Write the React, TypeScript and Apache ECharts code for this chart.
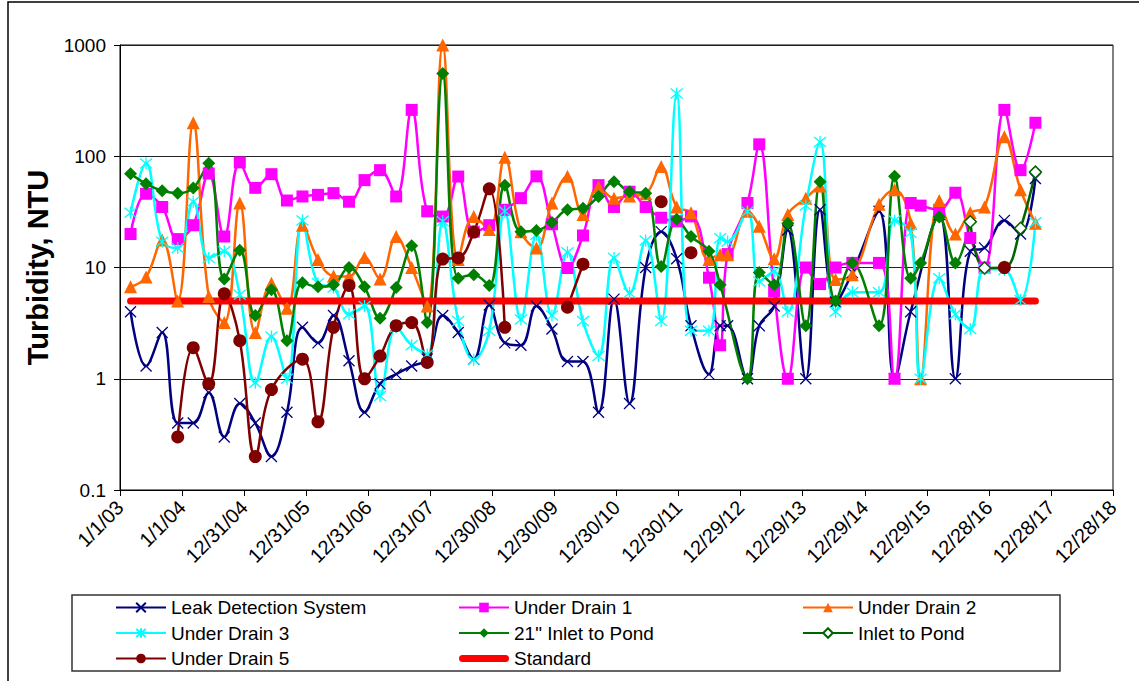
import React, { useEffect, useRef } from 'react';
import * as echarts from 'echarts';

// X axis: Excel date axis, major unit 365 days starting 1/1/03
const xTickLabels = ['1/1/03', '1/1/04', '12/31/04', '12/31/05', '12/31/06', '12/31/07', '12/30/08', '12/30/09', '12/30/10', '12/30/11', '12/29/12', '12/29/13', '12/29/14', '12/29/15', '12/28/16', '12/28/17', '12/28/18'];
const yTickValues = [0.1, 1, 10, 100, 1000];
const yTickLabels = ['0.1', '1', '10', '100', '1000'];

// [sample time (decimal year), turbidity NTU]; null = break in the line
const leakDetection = [
  [2003.17, 4.0], [2003.42, 1.3], [2003.68, 2.6], [2003.93, 0.4], [2004.18, 0.4], [2004.43, 0.75], [2004.68, 0.3], [2004.93, 0.6],
  [2005.18, 0.4], [2005.44, 0.2], [2005.69, 0.5], [2005.94, 2.9], [2006.19, 2.1], [2006.44, 3.7], [2006.69, 1.45], [2006.94, 0.5],
  [2007.19, 0.9], [2007.45, 1.1], [2007.70, 1.3], [2007.95, 1.5], [2008.20, 3.7], [2008.45, 2.6], [2008.70, 1.5], [2008.95, 4.6],
  [2009.20, 2.1], [2009.46, 2.0], [2009.71, 4.5], [2009.96, 2.8], [2010.21, 1.43], [2010.46, 1.43], [2010.71, 0.5], [2010.96, 5.2],
  [2011.21, 0.6], [2011.47, 10], [2011.72, 21], [2011.97, 12], [2012.20, 3.0], [2012.49, 1.1], [2012.67, 3.0], [2012.79, 3.0],
  [2013.11, 1.0], [2013.30, 3.0], [2013.54, 4.5], [2013.76, 21.7], [2014.05, 1.0], [2014.28, 33], [2014.53, 4.9], [2014.80, 9],
  [2015.23, 32], [2015.48, 1.0], [2015.74, 4.0], [2016.20, 30], [2016.46, 1.0], [2016.70, 14], [2016.93, 15], [2017.25, 26.5],
  [2017.51, 20], [2017.75, 63],
];

const underDrain1 = [
  [2003.17, 20], [2003.42, 46], [2003.68, 35], [2003.93, 18], [2004.18, 24], [2004.43, 70], [2004.68, 19], [2004.93, 88],
  [2005.18, 52], [2005.44, 69], [2005.69, 40], [2005.94, 43.5], [2006.19, 45], [2006.44, 46.6], [2006.69, 39], [2006.94, 61],
  [2007.19, 75], [2007.45, 43.5], [2007.70, 261], [2007.95, 32], [2008.20, 28.7], [2008.45, 65.7], [2008.70, 21], [2008.95, 24],
  [2009.20, 33], [2009.46, 42], [2009.71, 66], [2009.96, 24.5], [2010.21, 9.9], [2010.46, 19.4], [2010.71, 55], [2010.96, 35],
  [2011.21, 48], [2011.47, 35], [2011.72, 28], [2011.97, 26], [2012.20, 28.8], [2012.49, 8.1], [2012.67, 2.0], [2012.79, 13.2],
  [2013.11, 38], [2013.30, 128], [2013.54, 6.1], [2013.76, 1.0], [2014.05, 10], [2014.28, 7.1], [2014.53, 10], [2014.80, 11],
  [2015.23, 11], [2015.48, 1.0], [2015.74, 38], [2015.90, 36], [2016.20, 33], [2016.46, 47], [2016.70, 18.4], [2016.93, 10],
  [2017.25, 261], [2017.51, 75], [2017.75, 200],
];

const underDrain2 = [
  [2003.17, 6.7], [2003.42, 8.2], [2003.68, 17.7], [2003.93, 5.0], [2004.18, 200], [2004.43, 5.5], [2004.68, 3.2], [2004.93, 38],
  [2005.18, 2.6], [2005.44, 7.2], [2005.69, 4.3], [2005.94, 24], [2006.19, 11.8], [2006.44, 8.4], [2006.69, 8.3], [2006.94, 12.3],
  [2007.19, 7.9], [2007.45, 19], [2007.70, 10], [2007.95, 4.5], [2008.20, 1000], [2008.45, 11.8], [2008.70, 28.8], [2008.95, 22],
  [2009.20, 98], [2009.46, 21], [2009.71, 15], [2009.96, 38], [2010.21, 66], [2010.46, 30], [2010.71, 53], [2010.96, 42],
  [2011.21, 44], [2011.47, 46], [2011.72, 81], [2011.97, 35], [2012.20, 31], [2012.49, 11.8], [2012.67, 13], [2012.79, 13],
  [2013.11, 32], [2013.30, 23.5], [2013.54, 12], [2013.76, 30], [2014.05, 42], [2014.28, 54], [2014.53, 7.8], [2014.80, 8.6],
  [2015.23, 37], [2015.48, 50], [2015.74, 25], [2015.90, 1.0], [2016.20, 40], [2016.46, 20], [2016.70, 31], [2016.93, 35],
  [2017.25, 150], [2017.51, 50], [2017.75, 25],
];

const underDrain3 = [
  [2003.17, 31], [2003.42, 86], [2003.68, 17], [2003.93, 15], [2004.18, 39], [2004.43, 12.2], [2004.68, 14], [2004.93, 5.7],
  [2005.18, 0.92], [2005.44, 2.4], [2005.69, 1.0], [2005.94, 26.5], [2006.19, 7.2], [2006.44, 6.6], [2006.69, 3.8], [2006.94, 4.5],
  [2007.19, 0.7], [2007.45, 2.9], [2007.70, 2.0], [2007.95, 1.65], [2008.20, 26], [2008.45, 3.3], [2008.70, 1.48], [2008.95, 2.7],
  [2009.20, 32], [2009.46, 3.4], [2009.71, 19.7], [2009.96, 3.7], [2010.21, 13.7], [2010.46, 3.3], [2010.71, 1.6], [2010.96, 12.2],
  [2011.21, 5.9], [2011.47, 17.5], [2011.72, 3.3], [2011.97, 367], [2012.20, 2.7], [2012.49, 2.7], [2012.67, 18.3], [2012.79, 17.1],
  [2013.11, 31.8], [2013.30, 7.5], [2013.54, 9.2], [2013.76, 4.0], [2014.05, 36], [2014.28, 134], [2014.53, 4.0], [2014.80, 6.0],
  [2015.23, 6.0], [2015.48, 26.5], [2015.74, 20.5], [2015.90, 1.0], [2016.20, 8.0], [2016.46, 3.8], [2016.70, 2.8], [2016.93, 9.7],
  [2017.25, 9.5], [2017.51, 5.1], [2017.75, 25.5],
];

const inlet21 = [
  [2003.17, 69.5], [2003.42, 56.5], [2003.68, 49], [2003.93, 46.6], [2004.18, 51.7], [2004.43, 86.5], [2004.68, 7.9], [2004.93, 14.3],
  [2005.18, 3.7], [2005.44, 6.3], [2005.69, 2.2], [2005.94, 7.3], [2006.19, 6.7], [2006.44, 7], [2006.69, 10], [2006.94, 6.7],
  [2007.19, 3.5], [2007.45, 6.6], [2007.70, 15.7], [2007.95, 3.2], [2008.20, 555], [2008.45, 8.0], [2008.70, 8.6], [2008.95, 6.9],
  [2009.20, 55], [2009.46, 21], [2009.71, 21.5], [2009.96, 25.4], [2010.21, 33], [2010.46, 34], [2010.71, 43.5], [2010.96, 59],
  [2011.21, 48], [2011.47, 46.6], [2011.72, 10.2], [2011.97, 27.2], [2012.20, 19], [2012.49, 14], [2012.67, 7.0], [2013.11, 1.0],
  [2013.30, 9.0], [2013.54, 7.0], [2013.76, 25], [2014.05, 3.0], [2014.28, 59], [2014.53, 5.0], [2014.80, 11], [2015.23, 3.0],
  [2015.48, 66], [2015.74, 8.0], [2015.90, 11], [2016.20, 28.5], [2016.46, 11], [2016.70, 25.8],
];

const inletToPond = [
  [2016.70, 25.8], [2016.93, 9.9], [2017.25, 10], [2017.51, 22.5], [2017.75, 72],
];

const underDrain5 = [
  [2003.93, 0.30], [2004.18, 1.9], [2004.43, 0.9], [2004.68, 5.8], [2004.93, 2.2], [2005.18, 0.2], [2005.44, 0.8], [2005.94, 1.5],
  [2006.19, 0.41], [2006.44, 2.9], [2006.69, 6.9], [2006.94, 1.0], [2007.19, 1.6], [2007.45, 3.0], [2007.70, 3.2], [2007.95, 1.4],
  [2008.20, 11.9], [2008.45, 12.2], [2008.70, 20.8], [2008.95, 51], [2009.20, 2.9], [2009.46, null], [2010.21, 4.4], [2010.46, 10.7],
  [2010.71, null], [2011.72, 39], [2011.97, null], [2012.20, 13.6], [2012.49, null], [2017.25, 10],
];

const standard = [
  [2003.17, 5], [2017.75, 5],
];

const FONT = 'Liberation Sans, Arial, sans-serif';
const toDays = (yr: number) => (yr - 2003) * 365;
const conv = (arr: any[]) => arr.map(([t, v]) => [toDays(t), v == null ? '-' : v]);

const X_PATH = 'path://M0,0L10,10M10,0L0,10';
const STAR_PATH = 'path://M0,0L10,10M10,0L0,10M5,-1L5,11';
const BAR_ICON = 'path://M3.5,0L46.5,0A3.5,3.5,0,0,1,46.5,7L3.5,7A3.5,3.5,0,0,1,3.5,0Z';

function lineSeries(name: string, data: any[], color: string, symbol: string, size: number, item: any = {}) {
  return {
    type: 'line',
    name,
    data: conv(data),
    smooth: 0.4,
    symbol,
    symbolSize: size,
    showSymbol: true,
    showAllSymbol: true,
    connectNulls: false,
    lineStyle: { color, width: 2.5 },
    itemStyle: { color, borderColor: color, borderWidth: 0, ...item },
    emphasis: { disabled: true },
  };
}

export default function App() {
  const ref = useRef<HTMLDivElement>(null);
  useEffect(() => {
    if (!ref.current) return;
    const chart = echarts.init(ref.current, null, { renderer: 'svg' });
    const legendText = { fontFamily: FONT, fontSize: 19, color: '#000' };
    const legendCommon = {
      orient: 'vertical',
      top: 598,
      padding: 0,
      itemWidth: 50,
      itemHeight: 12,
      itemGap: 6.5,
      textStyle: legendText,
      selectedMode: false,
    };
    chart.setOption({
      animation: false,
      backgroundColor: '#fff',
      grid: { left: 120, right: 26, top: 45, bottom: 191, show: true, borderColor: '#000', borderWidth: 1, backgroundColor: 'transparent' },
      xAxis: {
        type: 'value',
        min: 0,
        max: 5840,
        interval: 365,
        axisLine: { show: true, lineStyle: { color: '#000', width: 1 } },
        axisTick: { show: true, length: 6, lineStyle: { color: '#000' } },
        splitLine: { show: false },
        axisLabel: {
          rotate: 45,
          margin: 14,
          fontFamily: FONT,
          fontSize: 20,
          color: '#000',
          formatter: (v: number) => xTickLabels[Math.round(v / 365)] ?? '',
        },
      },
      yAxis: {
        type: 'log',
        logBase: 10,
        min: 0.1,
        max: 1000,
        name: 'Turbidity, NTU',
        nameLocation: 'middle',
        nameGap: 62,
        nameTextStyle: { fontFamily: FONT, fontSize: 29, fontWeight: 'bold', color: '#000' },
        axisLine: { show: true, lineStyle: { color: '#000', width: 1 } },
        axisTick: { show: true, length: 6, inside: false, lineStyle: { color: '#000' } },
        splitLine: { show: true, lineStyle: { color: '#222', width: 1 } },
        minorTick: { show: false },
        axisLabel: {
          margin: 14,
          fontFamily: FONT,
          fontSize: 19,
          color: '#000',
          formatter: (v: number) => {
            let best = 0;
            yTickValues.forEach((t, i) => { if (Math.abs(Math.log10(t) - Math.log10(v)) < Math.abs(Math.log10(yTickValues[best]) - Math.log10(v))) best = i; });
            return yTickLabels[best];
          },
        },
      },
      legend: [
        { ...legendCommon, left: 115, data: ['Leak Detection System', 'Under Drain 3', 'Under Drain 5'] },
        { ...legendCommon, left: 458, data: ['Under Drain 1', '21" Inlet to Pond', { name: 'Standard', icon: BAR_ICON, itemStyle: { color: '#FF0000' } }] },
        { ...legendCommon, left: 802, data: ['Under Drain 2', 'Inlet to Pond'] },
      ],
      graphic: [
        { type: 'rect', shape: { x: 8, y: 2, width: 1200, height: 800 }, style: { fill: 'none', stroke: '#000', lineWidth: 1.5 }, silent: true, z: -10 },
        { type: 'rect', shape: { x: 72, y: 595, width: 988, height: 76 }, style: { fill: 'none', stroke: '#333', lineWidth: 1.5 }, silent: true },
      ],
      series: [
        lineSeries('Leak Detection System', leakDetection, '#000080', X_PATH, 11, { color: 'none', borderWidth: 1.3 }),
        lineSeries('Under Drain 1', underDrain1, '#FF00FF', 'rect', 12),
        lineSeries('Under Drain 2', underDrain2, '#FF6600', 'triangle', 13),
        lineSeries('Under Drain 3', underDrain3, '#00FFFF', STAR_PATH, 12, { color: 'none', borderWidth: 1.3 }),
        lineSeries('21" Inlet to Pond', inlet21, '#008000', 'diamond', 13),
        lineSeries('Inlet to Pond', inletToPond, '#006400', 'diamond', 12, { color: '#fff', borderColor: '#006400', borderWidth: 1.5 }),
        lineSeries('Under Drain 5', underDrain5, '#800000', 'circle', 13),
        {
          type: 'line',
          name: 'Standard',
          data: conv(standard),
          symbol: 'none',
          lineStyle: { color: '#FF0000', width: 7, cap: 'round' },
          itemStyle: { color: '#FF0000' },
          emphasis: { disabled: true },
        },
      ],
    });
    return () => chart.dispose();
  }, []);
  return <div ref={ref} style={{ position: 'fixed', left: 0, top: 0, width: 1139, height: 681, background: '#fff' }} />;
}
